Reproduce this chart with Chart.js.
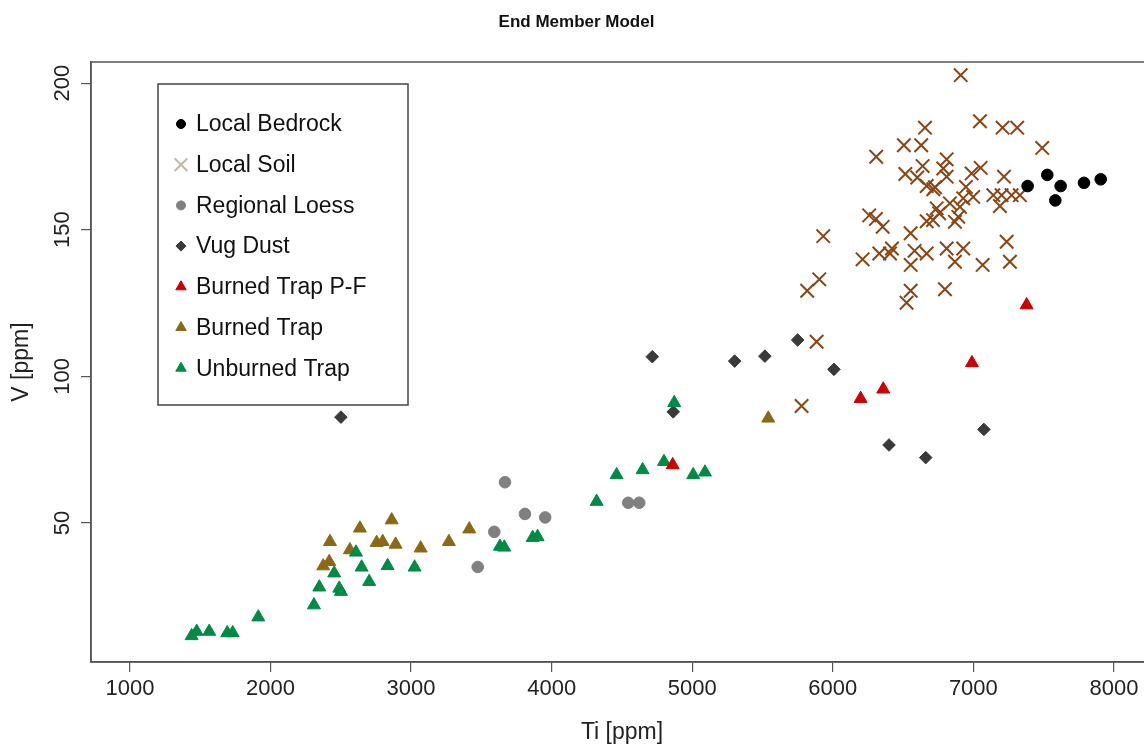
<!DOCTYPE html>
<html>
<head>
<meta charset="utf-8">
<script src="https://cdn.jsdelivr.net/npm/chart.js@4"></script>
<style>
  html, body { margin: 0; padding: 0; background: #fff; overflow: hidden; }
  #wrap { width: 1244px; height: 744px; }
</style>
</head>
<body>
<div id="wrap"><canvas id="emm" width="1244" height="744"></canvas></div>
<script>
// values: [Ti ppm, V ppm]
const localBedrock = [
  [7386, 164.9], [7526, 168.7], [7621, 164.9], [7583, 160], [7787, 166], [7906, 167.2]
];
const localSoil = [
  [6656, 184.8], [6506, 178.8], [6629, 178.8], [6309, 174.9], [6639, 171.7], [6516, 169],
  [6601, 167.8], [6668, 164.9], [6715, 163.8], [6259, 154.9], [6307, 153.7], [6355, 151],
  [5932, 147.8], [6554, 148.8], [6668, 152.9], [6739, 157.3], [6757, 155.6], [6212, 139.9],
  [6331, 141.9], [6421, 143.6], [6407, 141.9], [6582, 142.8], [6668, 141.9], [6554, 138],
  [5904, 133.1], [5818, 129.2], [6554, 129.2], [6525, 125.1], [6910, 202.7], [7047, 187],
  [7208, 184.8], [7312, 184.8], [7490, 177.9], [6810, 174], [6786, 170.9], [6810, 168.1],
  [6988, 169.2], [7052, 171.1], [7218, 168.1], [6947, 164.6], [6999, 161.2], [7142, 161.8],
  [7201, 161.8], [7272, 161.8], [7331, 161.8], [7189, 158.1], [6833, 159], [6905, 157.8],
  [6928, 160.7], [6893, 154.4], [6869, 152.7], [7237, 145.9], [6810, 143.6], [6928, 143.6],
  [6869, 139.1], [7066, 138], [7260, 139.1], [6798, 129.7], [6727, 164.5], [6713, 153.3],
  [5885, 111.8], [5778, 89.9]
];
const regionalLoess = [
  [3668, 63.9], [3810, 53.1], [3954, 51.9], [3592, 47], [3474, 35], [4545, 56.9], [4623, 56.9]
];
const vugDust = [
  [2501, 86.1], [4716, 106.7], [4865, 87.9], [5302, 105.2], [5517, 106.9], [5750, 112.4],
  [6008, 102.4], [6400, 76.6], [6661, 72.3], [7075, 81.9]
];
const burnedTrapPF = [
  [7379, 124.3], [6990, 104.6], [6359, 95.6], [6198, 92.4], [4861, 69.8]
];
const burnedTrap = [
  [5541, 85.7], [3414, 47.9], [3269, 43.6], [3068, 41.4], [2862, 51], [2636, 48.2],
  [2423, 43.6], [2755, 43.3], [2798, 43.6], [2890, 42.7], [2565, 40.8], [2418, 36.8], [2375, 35.3]
];
const unburnedTrap = [
  [4462, 66.4], [4647, 68.1], [4799, 70.9], [5007, 66.4], [5091, 67.3], [4320, 57.3],
  [3663, 41.7], [3632, 42], [3865, 45], [3900, 45.3], [4872, 91], [2608, 40], [2648, 34.9],
  [2833, 35.4], [3025, 34.9], [2453, 32.9], [2702, 30], [2347, 28.1], [2489, 27.7],
  [2501, 26.6], [2309, 22], [1913, 17.9], [1439, 11.5], [1475, 13], [1564, 13],
  [1692, 12.5], [1731, 12.5]
];
const xTicks = [1000, 2000, 3000, 4000, 5000, 6000, 7000, 8000];
const yTicks = [50, 100, 150, 200];

const FONT = "'Liberation Sans', Arial, sans-serif";
const toXY = arr => arr.map(p => ({ x: p[0], y: p[1] }));

function series(label, pts, style, color, radius, extra) {
  return Object.assign({
    label: label,
    data: toXY(pts),
    pointStyle: style,
    pointRadius: radius,
    pointHoverRadius: radius,
    backgroundColor: color,
    borderColor: color,
    borderWidth: 1,
    showLine: false
  }, extra || {});
}

// framed legend in the upper-left corner of the plot, plus the top frame line
const boxLegend = {
  id: 'boxLegend',
  afterDraw(chart) {
    const { ctx, chartArea } = chart;
    ctx.save();
    ctx.strokeStyle = '#555';
    ctx.lineWidth = 1.5;
    ctx.strokeRect(chartArea.left, chartArea.top, chartArea.right - chartArea.left, chartArea.bottom - chartArea.top);

    const left = chartArea.left + 67, top = chartArea.top + 22;
    ctx.fillStyle = '#fff';
    ctx.fillRect(left, top, 250, 321);
    ctx.strokeStyle = '#444';
    ctx.strokeRect(left, top, 250, 321);

    ctx.font = '23px ' + FONT;
    ctx.textBaseline = 'middle';
    chart.data.datasets.forEach((ds, i) => {
      const y = top + 40 + i * 40.7;
      const c = ds.legendColor || ds.borderColor;
      ctx.fillStyle = c;
      ctx.strokeStyle = c;
      ctx.lineWidth = ds.borderWidth;
      Chart.helpers.drawPoint(ctx, {
        pointStyle: ds.pointStyle, radius: ds.legendRadius, borderWidth: ds.borderWidth, rotation: 0
      }, left + 23, y);
      ctx.fillStyle = '#111';
      ctx.fillText(ds.label, left + 38, y + 1);
    });
    ctx.restore();
  }
};

new Chart(document.getElementById('emm'), {
  type: 'scatter',
  data: {
    datasets: [
      series('Local Bedrock', localBedrock, 'circle', '#000000', 5.8, { order: 4, legendRadius: 4.5 }),
      series('Local Soil', localSoil, 'crossRot', '#8B4513', 9.5, { order: 5, borderWidth: 2, legendRadius: 9, legendColor: '#c9b49e' }),
      series('Regional Loess', regionalLoess, 'circle', '#808080', 5.8, { order: 6, legendRadius: 4.5 }),
      series('Vug Dust', vugDust, 'rectRot', '#3a3a3a', 6.3, { order: 3, legendRadius: 5 }),
      series('Burned Trap P-F', burnedTrapPF, 'triangle', '#cc0000', 7.5, { order: 0, legendRadius: 6 }),
      series('Burned Trap', burnedTrap, 'triangle', '#8b6914', 7.5, { order: 2, legendRadius: 6 }),
      series('Unburned Trap', unburnedTrap, 'triangle', '#008b45', 7.5, { order: 1, legendRadius: 6 })
    ]
  },
  options: {
    responsive: false,
    animation: false,
    layout: { padding: { left: 0, right: 91, top: 0, bottom: 0 } },
    scales: {
      x: {
        type: 'linear',
        min: 723,
        max: 8278,
        afterBuildTicks: s => { s.ticks = xTicks.map(v => ({ value: v })); },
        afterFit: s => { s.height = 82; },
        grid: { display: true, drawOnChartArea: false, drawTicks: true, tickLength: 10, color: '#555', lineWidth: 1.2 },
        border: { display: true, color: '#555', width: 1.5 },
        ticks: { color: '#222', font: { family: FONT, size: 22 }, padding: 4, maxRotation: 0, callback: v => String(v) },
        title: { display: true, text: 'Ti [ppm]', color: '#222', font: { family: FONT, size: 23, lineHeight: 1 }, padding: { top: 0, bottom: 0 } }
      },
      y: {
        type: 'linear',
        min: 2.6,
        max: 207.2,
        afterBuildTicks: s => { s.ticks = yTicks.map(v => ({ value: v })); },
        afterFit: s => { s.width = 91; },
        grid: { display: true, drawOnChartArea: false, drawTicks: true, tickLength: 10, color: '#555', lineWidth: 1.2 },
        border: { display: true, color: '#555', width: 1.5 },
        ticks: { color: '#222', font: { family: FONT, size: 22 }, padding: 0, minRotation: 90, maxRotation: 90, crossAlign: 'center', callback: v => String(v) },
        title: { display: true, text: 'V [ppm]', color: '#222', font: { family: FONT, size: 23 }, padding: { top: 8, bottom: 0 } }
      }
    },
    plugins: {
      legend: { display: false },
      tooltip: { enabled: false },
      title: {
        display: true,
        text: 'End Member Model',
        color: '#111',
        font: { family: FONT, size: 17, weight: 'bold', lineHeight: 1.2 },
        padding: { top: 12, bottom: 29.6 }
      }
    }
  },
  plugins: [boxLegend]
});
</script>
</body>
</html>
